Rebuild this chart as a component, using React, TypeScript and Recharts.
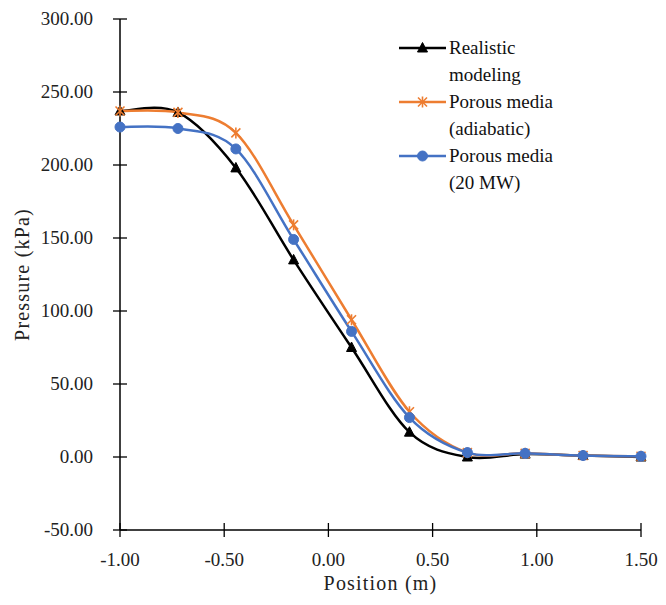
import React from 'react'
import { LineChart, Line, XAxis, YAxis } from 'recharts'

const positions = [-1, -0.722, -0.444, -0.167, 0.111, 0.389, 0.667, 0.944, 1.222, 1.5]
const realistic = [237, 236, 198, 135, 75, 17, 0, 2, 1, 0]
const adiabatic = [237, 236, 222, 159, 94, 31, 3, 2.5, 1, 0.5]
const mw20 = [226, 225, 211, 149, 86, 27, 3, 2.5, 1, 0.5]

const xTicks = [-1, -0.5, 0, 0.5, 1, 1.5]
const yTicks = [-50, 0, 50, 100, 150, 200, 250, 300]

const legendLabels = [
  ['Realistic', 'modeling'],
  ['Porous media', '(adiabatic)'],
  ['Porous media', '(20 MW)'],
]

const data = positions.map((x, i) => ({
  x,
  realistic: realistic[i],
  adiabatic: adiabatic[i],
  mw20: mw20[i],
}))

const FONT = '"Liberation Serif", "Times New Roman", serif'
const BLACK = '#000000'
const ORANGE = '#ED7D31'
const BLUE = '#4472C4'

// excel-like smoothed line (catmull-rom style bezier)
function excelSmooth(context: any) {
  let pts: number[][] = []
  return {
    areaStart() {},
    areaEnd() {},
    lineStart() {
      pts = []
    },
    point(x: number, y: number) {
      pts.push([+x, +y])
    },
    lineEnd() {
      const n = pts.length
      if (!n) return
      context.moveTo(pts[0][0], pts[0][1])
      for (let i = 0; i < n - 1; i++) {
        const p0 = pts[i - 1] || pts[i]
        const p1 = pts[i]
        const p2 = pts[i + 1]
        const p3 = pts[i + 2] || p2
        const t = 1 / 6
        context.bezierCurveTo(
          p1[0] + (p2[0] - p0[0]) * t,
          p1[1] + (p2[1] - p0[1]) * t,
          p2[0] - (p3[0] - p1[0]) * t,
          p2[1] - (p3[1] - p1[1]) * t,
          p2[0],
          p2[1]
        )
      }
    },
  }
}

function Triangle({ cx, cy, color }: any) {
  return <path d={`M${cx},${cy - 5.5} L${cx + 5},${cy + 4} L${cx - 5},${cy + 4} Z`} fill={color} stroke={color} strokeWidth={1} />
}

function Star({ cx, cy, color }: any) {
  const r = 4.5
  return (
    <g stroke={color} strokeWidth={1.6}>
      <line x1={cx - r} y1={cy - r} x2={cx + r} y2={cy + r} />
      <line x1={cx - r} y1={cy + r} x2={cx + r} y2={cy - r} />
      <line x1={cx} y1={cy - r - 1} x2={cx} y2={cy + r + 1} />
    </g>
  )
}

function Circle({ cx, cy, color }: any) {
  return <circle cx={cx} cy={cy} r={5} fill={color} stroke={color} />
}

const markers = [
  { key: 'realistic', color: BLACK, Marker: Triangle },
  { key: 'adiabatic', color: ORANGE, Marker: Star },
  { key: 'mw20', color: BLUE, Marker: Circle },
]

function YTick({ x, y, payload }: any) {
  const ax = x + 27
  return (
    <g>
      <line x1={ax - 7} x2={ax + 7} y1={y} y2={y} stroke="#000" strokeWidth={1.3} />
      <text x={x} y={y} dy={6} textAnchor="end" fontFamily={FONT} fontSize={19} fill="#222">
        {payload.value.toFixed(2)}
      </text>
    </g>
  )
}

function XTick({ x, y, payload }: any) {
  const ay = y - 23
  return (
    <g>
      <line x1={x} x2={x} y1={ay - 7} y2={ay + 7} stroke="#000" strokeWidth={1.3} />
      <text x={x} y={y} dy={13} textAnchor="middle" fontFamily={FONT} fontSize={19} fill="#222">
        {payload.value.toFixed(2)}
      </text>
    </g>
  )
}

function LegendBox() {
  return (
    <div style={{ fontFamily: FONT, fontSize: 19, color: '#111', lineHeight: '27px' }}>
      {markers.map(({ key, color, Marker }, i) => (
        <div key={key} style={{ display: 'flex', alignItems: 'flex-start' }}>
          <svg width={50} height={27} style={{ flex: 'none' }}>
            <line x1={1} x2={48} y1={14} y2={14} stroke={color} strokeWidth={2.5} />
            <Marker cx={24.5} cy={14} color={color} />
          </svg>
          <div style={{ marginLeft: 1 }}>
            <div>{legendLabels[i][0]}</div>
            <div>{legendLabels[i][1]}</div>
          </div>
        </div>
      ))}
    </div>
  )
}

export default function App() {
  return (
    <div style={{ position: 'absolute', left: 0, top: 0, width: 666, height: 605, background: '#fff' }}>
      <LineChart width={666} height={605} data={data} margin={{ top: 19, right: 25, bottom: 25, left: 50 }}>
        <XAxis
          dataKey="x"
          type="number"
          domain={[-1, 1.5]}
          ticks={xTicks}
          tick={<XTick />}
          tickLine={false}
          tickSize={0}
          tickMargin={23}
          height={50}
          axisLine={{ stroke: '#000', strokeWidth: 1.5 }}
          label={{
            value: 'Position (m)',
            position: 'insideBottom',
            offset: 0,
            dy: 10,
            style: { fontFamily: FONT, fontSize: 20, letterSpacing: 1.2, fill: '#222' },
          }}
        />
        <YAxis
          type="number"
          domain={[-50, 300]}
          ticks={yTicks}
          tick={<YTick />}
          tickLine={false}
          tickSize={0}
          tickMargin={27}
          width={70}
          axisLine={{ stroke: '#000', strokeWidth: 1.5 }}
          label={{
            value: 'Pressure (kPa)',
            angle: -90,
            position: 'insideLeft',
            offset: 0,
            dx: -28,
            style: { fontFamily: FONT, fontSize: 20, letterSpacing: 1.2, fill: '#222', textAnchor: 'middle' },
          }}
        />
        {markers.map(({ key, color, Marker }) => (
          <Line
            key={key}
            dataKey={key}
            type={excelSmooth as any}
            stroke={color}
            strokeWidth={2.5}
            dot={(p: any) => <Marker key={`${key}-${p.index}`} cx={p.cx} cy={p.cy} color={color} />}
            activeDot={false}
            isAnimationActive={false}
          />
        ))}
      </LineChart>
      <div style={{ position: 'absolute', left: 398, top: 34 }}>
        <LegendBox />
      </div>
    </div>
  )
}
